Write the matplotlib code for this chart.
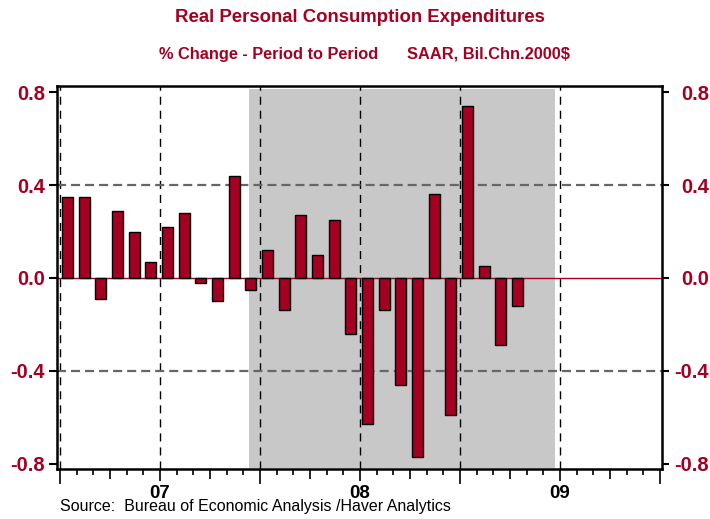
import numpy as np
import matplotlib
matplotlib.use('Agg')
import matplotlib.pyplot as plt
import matplotlib.transforms as mtransforms

plt.rcParams['font.family'] = ['Liberation Sans', 'DejaVu Sans']
plt.rcParams['lines.scale_dashes'] = False

# monthly % change, Jan 2007 .. Apr 2009
pce_change = [0.35, 0.35, -0.09, 0.29, 0.20, 0.07, 0.22, 0.28, -0.02, -0.10,
              0.44, -0.05, 0.12, -0.14, 0.27, 0.10, 0.25, -0.24, -0.63, -0.14,
              -0.46, -0.77, 0.36, -0.59, 0.74, 0.05, -0.29, -0.12]
year_labels = ['07', '08', '09']
yticks = [-0.8, -0.4, 0.0, 0.4, 0.8]
recession = (11.34, 29.7)   # in months from Jan 2007

crimson = '#A50021'
bar_color = '#A40022'

fig = plt.figure(figsize=(7.1, 5.19), dpi=100)
ax = fig.add_axes([57.3 / 710, 49.7 / 519, 605 / 710, 383.6 / 519])

months = np.arange(len(pce_change)) + 0.45

# recession shading
ax.fill_between(recession, -0.818, 0.815, color='#C8C8C8', lw=0, zorder=0)

# grid
for m in range(0, 36, 6):
    ax.axvline(m, color='black', lw=1.0, dashes=(5.8, 4.3), zorder=1)
for v in [-0.4, 0.4]:
    ax.axhline(v, color='#666666', lw=1.6, dashes=(6.5, 3.6), zorder=1)
ax.axhline(0, color=crimson, lw=1.0, zorder=1)

ax.bar(months, pce_change, width=0.65, color=bar_color, edgecolor='black',
       linewidth=1.0, zorder=3)

ax.set_xlim(-0.162, 36.138)
ax.set_ylim(-0.825, 0.829)

for s in ax.spines.values():
    s.set_linewidth(1.8)

# x ticks: quarters major, months minor
ax.set_xticks(np.arange(0, 37, 3))
ax.set_xticks(np.arange(0, 37, 1), minor=True)
ax.set_xticklabels([])
ax.tick_params(axis='x', which='minor', direction='out', length=4.3, width=1.2)
ax.tick_params(axis='x', which='major', direction='out', length=7.5, width=1.2)
for loc, t in zip(np.arange(0, 37, 3), ax.xaxis.get_major_ticks()):
    if loc % 12 == 0:
        t.tick1line.set_markersize(11)
        t.tick1line.set_color('#555555')
    elif loc % 6 == 0:
        t.tick1line.set_markersize(8.5)

trans = mtransforms.blended_transform_factory(ax.transData, fig.transFigure)
for i, lab in enumerate(year_labels):
    ax.text(6 + 12 * i, 1 - 494 / 519, lab, transform=trans, ha='center',
            va='center', fontsize=13.5, fontweight='bold', color='black')

# y ticks both sides
ax.set_yticks(yticks)
ax.set_yticklabels(['%.1f' % v for v in yticks])
ax.tick_params(axis='y', direction='out', length=5.8, width=1.5, pad=3,
               labelsize=14.5, labelcolor=crimson)
for lab in ax.get_yticklabels():
    lab.set_fontweight('bold')

ax2 = ax.twinx()
ax2.set_ylim(ax.get_ylim())
ax2.set_yticks(yticks)
ax2.set_yticklabels(['%.1f' % v for v in yticks])
ax2.tick_params(axis='y', direction='out', length=5.2, width=1.5, pad=28.5,
                labelsize=14.5, labelcolor=crimson)
for lab in ax2.get_yticklabels():
    lab.set_fontweight('bold')
    lab.set_horizontalalignment('right')
for s in ax2.spines.values():
    s.set_visible(False)

# titles
fig.text(360 / 710, 1 - 18 / 519, 'Real Personal Consumption Expenditures',
         ha='center', va='center', fontsize=13.4, fontweight='bold', color=crimson)
fig.text(159 / 710, 1 - 54 / 519, '% Change - Period to Period',
         ha='left', va='center', fontsize=11.8, fontweight='bold', color=crimson)
fig.text(407 / 710, 1 - 54 / 519, 'SAAR, Bil.Chn.2000$',
         ha='left', va='center', fontsize=11.8, fontweight='bold', color=crimson)

fig.text(60 / 710, 1 - 507 / 519,
         'Source:  Bureau of Economic Analysis /Haver Analytics',
         ha='left', va='center', fontsize=11.5, color='black')

fig.savefig('out.png', dpi=100)
